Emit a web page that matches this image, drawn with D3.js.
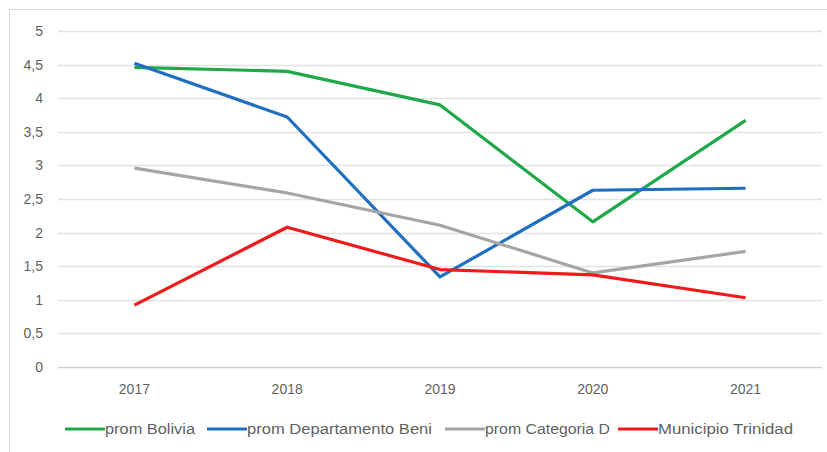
<!DOCTYPE html>
<html>
<head>
<meta charset="utf-8">
<script src="https://cdn.jsdelivr.net/npm/d3@7"></script>
<style>
  body { margin: 0; background: #fff; }
  text { font-family: "Liberation Sans", Arial, sans-serif; fill: #5f5f5f; }
</style>
</head>
<body>
<svg id="chart" width="827" height="452"></svg>
<script>
// Years on the x axis
const years = ['2017', '2018', '2019', '2020', '2021'];

// Series values
const bolivia = [4.46, 4.40, 3.90, 2.16, 3.67];
const beni = [4.52, 3.72, 1.34, 2.63, 2.66];
const categoriaD = [2.96, 2.59, 2.11, 1.40, 1.72];
const trinidad = [0.92, 2.08, 1.45, 1.37, 1.03];

const yTicks = [0, 0.5, 1, 1.5, 2, 2.5, 3, 3.5, 4, 4.5, 5];

const series = [
  {name: 'prom Bolivia', values: bolivia, color: '#1ea84a'},
  {name: 'prom Departamento Beni', values: beni, color: '#1f6fc1'},
  {name: 'prom Categoria D', values: categoriaD, color: '#a5a5a5'},
  {name: 'Municipio Trinidad', values: trinidad, color: '#f01a1a'}
];

const svg = d3.select('#chart');

// outer frame of the chart area
svg.append('rect')
  .attr('x', 9.5).attr('y', 9.5)
  .attr('width', 830).attr('height', 460)
  .attr('fill', 'none')
  .attr('stroke', '#d9d9d9');

const plot = {left: 58, right: 822, top: 31, bottom: 367};

const x = d3.scaleBand()
  .domain(years)
  .range([plot.left, plot.right]);

const y = d3.scaleLinear()
  .domain([0, 5])
  .range([plot.bottom, plot.top]);

// horizontal gridlines
svg.append('g')
  .selectAll('line')
  .data(yTicks)
  .enter().append('line')
  .attr('x1', plot.left)
  .attr('x2', plot.right)
  .attr('y1', d => Math.round(y(d)) + 0.5)
  .attr('y2', d => Math.round(y(d)) + 0.5)
  .attr('stroke', d => d === 0 ? '#d0d0d0' : '#e2e2e2')
  .attr('stroke-width', 1.5);

// y labels, comma decimals
const fmt = d => String(d).replace('.', ',');
svg.append('g')
  .selectAll('text')
  .data(yTicks)
  .enter().append('text')
  .attr('x', 43)
  .attr('y', d => y(d))
  .attr('dy', '0.35em')
  .attr('text-anchor', 'end')
  .attr('font-size', 14)
  .text(fmt);

// x labels
svg.append('g')
  .selectAll('text')
  .data(years)
  .enter().append('text')
  .attr('x', d => x(d) + x.bandwidth() / 2)
  .attr('y', 389)
  .attr('dy', '0.35em')
  .attr('text-anchor', 'middle')
  .attr('font-size', 14)
  .text(d => d);

const line = d3.line()
  .x((d, i) => x(years[i]) + x.bandwidth() / 2)
  .y(d => y(d));

svg.append('g')
  .selectAll('path')
  .data(series)
  .enter().append('path')
  .attr('d', s => line(s.values))
  .attr('fill', 'none')
  .attr('stroke', s => s.color)
  .attr('stroke-width', 3.2)
  .attr('stroke-linejoin', 'round');

// Legend along the bottom (Calibri-like widths forced with textLength)
const legendX = [65, 207, 445, 618];
const legendW = [90, 185, 125, 135];
const legend = svg.append('g')
  .selectAll('g')
  .data(series)
  .enter().append('g')
  .attr('transform', (s, i) => `translate(${legendX[i]},429)`);

legend.append('line')
  .attr('x1', 0).attr('x2', 40)
  .attr('y1', 0).attr('y2', 0)
  .attr('stroke', s => s.color)
  .attr('stroke-width', 3.2);

legend.append('text')
  .attr('x', 40)
  .attr('y', 0)
  .attr('dy', '0.35em')
  .attr('font-size', 14)
  .attr('textLength', (s, i) => legendW[i])
  .attr('lengthAdjust', 'spacingAndGlyphs')
  .text(s => s.name);
</script>
</body>
</html>
